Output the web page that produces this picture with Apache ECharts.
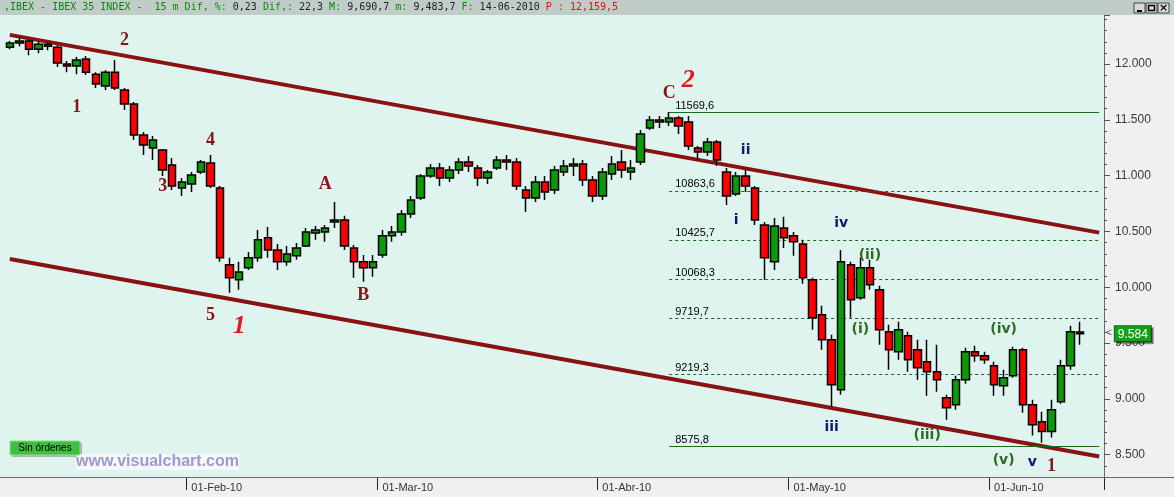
<!DOCTYPE html>
<html>
<head>
<meta charset="utf-8">
<title>IBEX 35 - 15 m</title>
<script src="https://cdn.jsdelivr.net/npm/echarts@6/dist/echarts.min.js"></script>
<style>
  html, body { margin: 0; padding: 0; background: #f0f0f0; }
  #chart { width: 1174px; height: 497px; }
</style>
</head>
<body>
<div id="chart"></div>
<script>
// una vela por sesion, 05-Ene-10 .. 14-Jun-10 (+2 huecos a la derecha)
var dates = [
  '05-Ene','06-Ene','07-Ene','08-Ene','11-Ene','12-Ene','13-Ene','14-Ene','15-Ene','18-Ene',
  '19-Ene','20-Ene','21-Ene','22-Ene','25-Ene','26-Ene','27-Ene','28-Ene','29-Ene',
  '01-Feb','02-Feb','03-Feb','04-Feb','05-Feb','08-Feb','09-Feb','10-Feb','11-Feb','12-Feb','15-Feb',
  '16-Feb','17-Feb','18-Feb','19-Feb','22-Feb','23-Feb','24-Feb','25-Feb','26-Feb',
  '01-Mar','02-Mar','03-Mar','04-Mar','05-Mar','08-Mar','09-Mar','10-Mar','11-Mar','12-Mar','15-Mar',
  '16-Mar','17-Mar','18-Mar','19-Mar','22-Mar','23-Mar','24-Mar','25-Mar','26-Mar','29-Mar','30-Mar','31-Mar',
  '01-Abr','06-Abr','07-Abr','08-Abr','09-Abr','12-Abr','13-Abr','14-Abr','15-Abr','16-Abr',
  '19-Abr','20-Abr','21-Abr','22-Abr','23-Abr','26-Abr','27-Abr','28-Abr','29-Abr','30-Abr',
  '03-May','04-May','05-May','06-May','07-May','10-May','11-May','12-May','13-May','14-May',
  '17-May','18-May','19-May','20-May','21-May','24-May','25-May','26-May','27-May','28-May','31-May',
  '01-Jun','02-Jun','03-Jun','04-Jun','07-Jun','08-Jun','09-Jun','10-Jun','11-Jun','14-Jun',
  '15-Jun','16-Jun'
];

var open = [
  12152,12188,12206,12134,12179,12152,12000,11982,12045,11910,11803,11928,11767,11642,11365,11248,11230,11096,10890,
  10926,11033,11114,10890,10201,10067,10174,10264,10443,10335,10228,10282,10371,10487,10496,10586,10604,10353,10228,10174,
  10290,10461,10496,10657,10801,10998,11069,10980,11051,11123,11069,10980,11069,11141,11123,10872,10801,10944,10872,11033,11087,11105,10962,
  10819,11015,11123,11033,11123,11427,11499,11481,11517,11481,11248,11212,11302,11033,10837,10998,10890,10559,10228,10532,
  10461,10389,10067,9754,9530,9082,10201,9906,10174,9977,9601,9422,9566,9440,9333,9243,9011,8948,9172,9422,9387,
  9297,9118,9208,9440,8948,8796,8707,8975,9297,9600
];
var high = [
  12206,12242,12215,12206,12197,12170,12027,12063,12072,11928,11946,12036,11785,11660,11391,11356,11240,11159,10980,
  11033,11141,11185,10908,10264,10228,10317,10514,10541,10389,10371,10398,10532,10550,10559,10765,10640,10380,10290,10290,
  10514,10550,10693,10819,11015,11105,11114,11087,11159,11177,11096,11051,11177,11185,11159,10908,10998,10998,11087,11141,11159,11141,10998,
  11069,11177,11230,11141,11409,11535,11535,11570,11535,11535,11266,11338,11320,11069,11033,11051,10908,10586,10622,10631,
  10496,10425,10085,9834,9575,10335,10228,10264,10246,10013,9664,9691,9601,9530,9530,9485,9037,9208,9458,9476,9422,
  9333,9261,9467,9458,8993,8885,8993,9351,9655,9691
];
var low = [
  12134,12161,12080,12098,12125,11973,11928,11910,11902,11785,11767,11767,11588,11320,11185,11141,10998,10872,10819,
  10854,11015,10890,10228,9950,9977,10156,10228,10264,10156,10192,10246,10360,10425,10407,10532,10335,10085,10049,10094,
  10264,10407,10461,10622,10783,10980,10908,10944,11015,11033,10908,10926,11051,11051,10872,10675,10765,10783,10836,10998,10998,10908,10765,
  10783,10962,10980,10962,11096,11409,11427,11445,11374,11230,11141,11177,11087,10738,10819,10854,10559,10067,10156,10353,
  10282,10031,9619,9440,8930,9037,9727,9888,9977,9485,9261,9351,9243,9172,9029,9064,8814,8903,9136,9333,9315,
  9029,9029,9190,8876,8671,8608,8653,8957,9261,9484
];
var close = [
  12188,12206,12134,12179,12161,12009,11982,12036,11928,11821,11928,11785,11642,11365,11275,11320,11051,10908,10944,
  11007,11123,10908,10264,10085,10138,10264,10425,10335,10228,10299,10353,10496,10514,10532,10604,10371,10228,10174,10228,
  10461,10496,10657,10783,10998,11069,10980,11051,11123,11087,10980,11033,11141,11123,10908,10801,10944,10854,11051,11087,11105,10962,10819,
  11033,11105,11051,11069,11374,11499,11481,11517,11445,11266,11212,11302,11141,10819,10998,10908,10604,10264,10550,10443,
  10407,10085,9727,9530,9127,10228,9888,10174,10022,9619,9440,9619,9351,9279,9243,9172,8921,9172,9422,9387,9351,
  9127,9190,9440,8948,8769,8707,8903,9297,9601,9584
];

var lastPrice = 9584;

// canal bajista (sesion, valor)
var channelTop = [[0, 12262], [114, 10490]];
var channelBottom = [[0, 10254], [114, 8484]];

// retrocesos desde el maximo de abril
var fiboStart = 69;
var fiboEnd = 114;
var fiboLevels = [11569.6, 10863.6, 10425.7, 10068.3, 9719.7, 9219.3, 8575.8];

// recuento de ondas
var waveText = ['2', '1', '4', '3', '5', '1', 'A', 'B', 'C', '2',
                'ii', 'i', 'iv', 'iii', 'v', '1',
                '(i)', '(ii)', '(iii)', '(iv)', '(v)'];
var waveAt   = [12, 7, 21, 16, 21, 24, 33, 37, 69, 71,
                77, 76, 87, 86, 107, 109,
                89, 90, 96, 104, 104];
var waveVal  = [12215, 11615, 11320, 10908, 9745, 9655, 10926, 9924, 11740, 11857,
                11230, 10604, 10577, 8742, 8429, 8393,
                9619, 10290, 8671, 9619, 8447];
var waveDegree = ['inter', 'inter', 'inter', 'inter', 'inter', 'prim', 'inter', 'inter', 'inter', 'prim',
                  'menor', 'menor', 'menor', 'menor', 'menor', 'inter',
                  'minuto', 'minuto', 'minuto', 'minuto', 'minuto'];

var monthStarts = ['01-Feb', '01-Mar', '01-Abr', '03-May', '01-Jun'];
var monthLabels = ['01-Feb-10', '01-Mar-10', '01-Abr-10', '01-May-10', '01-Jun-10'];

var chart = echarts.init(document.getElementById('chart'), null, { renderer: 'canvas' });

var degreeStyle = {
  inter: { color: '#861515', fontFamily: 'Liberation Serif', fontWeight: 'bold', fontSize: 18 },
  prim: { color: '#e8141b', fontFamily: 'Liberation Serif', fontWeight: 'bold', fontStyle: 'italic', fontSize: 26 },
  menor: { color: '#15156a', fontFamily: 'DejaVu Sans', fontWeight: 'bold', fontSize: 14 },
  minuto: { color: '#2f6a25', fontFamily: 'DejaVu Sans', fontWeight: 'bold', fontSize: 14 }
};

function fmtComma(v) {
  return String(v).replace('.', ',');
}

var candles = open.map(function (o, i) {
  return [o, close[i], low[i], high[i]];
});

var fiboLines = fiboLevels.map(function (lv, i) {
  var solid = i === 0 || i === fiboLevels.length - 1;
  return [
    {
      coord: [fiboStart, lv],
      lineStyle: { color: '#1a6b1a', width: 1, type: solid ? 'solid' : [3, 3] },
      label: {
        show: true, position: 'insideStartTop', formatter: fmtComma(lv),
        color: '#000', fontFamily: 'Liberation Sans', fontSize: 11, distance: [6, 1]
      }
    },
    { coord: [fiboEnd, lv] }
  ];
});

var channelLines = [channelTop, channelBottom].map(function (c) {
  return [
    { coord: c[0], lineStyle: { color: '#8a1212', width: 4, type: 'solid' }, label: { show: false } },
    { coord: c[1] }
  ];
});

var priceTag = {
  yAxis: lastPrice,
  lineStyle: { color: 'rgba(0,0,0,0)', width: 0 },
  label: {
    show: true, position: 'end', distance: 2,
    formatter: '{a|<}{b|' + (lastPrice / 1000).toFixed(3) + '}',
    rich: {
      a: { color: '#555', fontFamily: 'Liberation Sans', fontSize: 10, padding: [0, 3, 0, 0] },
      b: {
        color: '#fff', backgroundColor: '#14a014', borderColor: '#0a6e0a', borderWidth: 1,
        padding: [2, 3, 1, 3], fontFamily: 'Liberation Sans', fontSize: 12,
        shadowColor: 'rgba(0,0,0,0.35)', shadowOffsetX: 2, shadowOffsetY: 2, shadowBlur: 0
      }
    }
  }
};

var option = {
  backgroundColor: '#f0f0f0',
  animation: false,
  grid: {
    left: 5, right: 70, top: 15, bottom: 20,
    show: true, backgroundColor: '#e0f4ef', borderWidth: 0
  },
  xAxis: {
    type: 'category',
    data: dates,
    boundaryGap: true,
    axisLine: { lineStyle: { color: '#6a6a6a', width: 1 } },
    axisTick: {
      show: true,
      length: 13,
      lineStyle: { color: '#222', width: 1 },
      interval: function (i, v) { return monthStarts.indexOf(v) >= 0; }
    },
    axisLabel: {
      interval: function (i, v) { return monthStarts.indexOf(v) >= 0; },
      formatter: function (v) { return monthLabels[monthStarts.indexOf(v)]; },
      align: 'left',
      margin: 5,
      color: '#333',
      fontFamily: 'Liberation Sans',
      fontSize: 11
    },
    splitLine: { show: false }
  },
  yAxis: {
    type: 'value',
    position: 'right',
    min: 8300,
    max: 12440,
    splitNumber: 8,
    axisLine: { show: true, lineStyle: { color: '#6a6a6a' } },
    axisTick: { show: true, length: 6, lineStyle: { color: '#555' } },
    minorTick: { show: true, splitNumber: 5, length: 3, lineStyle: { color: '#555' } },
    axisLabel: {
      showMinLabel: false,
      showMaxLabel: false,
      margin: 11,
      color: '#3a3a3a',
      fontFamily: 'Liberation Sans',
      fontSize: 12,
      formatter: function (v) { return (v / 1000).toFixed(3); }
    },
    splitLine: { show: false }
  },
  series: [
    {
      name: 'IBEX 35',
      type: 'candlestick',
      data: candles,
      barWidth: 8,
      z: 3,
      itemStyle: {
        color: '#0a9a0a',
        color0: '#ff0000',
        borderColor: '#000',
        borderColor0: '#000',
        borderWidth: 1.5
      },
      markLine: {
        silent: true,
        symbol: ['none', 'none'],
        z: 2,
        data: channelLines.concat(fiboLines).concat([priceTag])
      }
    },
    {
      name: 'ondas',
      type: 'scatter',
      symbolSize: 0,
      z: 5,
      silent: true,
      itemStyle: { opacity: 1 },
      data: waveText.map(function (t, i) {
        var s = degreeStyle[waveDegree[i]];
        return {
          value: [waveAt[i], waveVal[i]],
          label: Object.assign({ show: true, position: 'inside', formatter: t }, s)
        };
      })
    }
  ],
  graphic: [
    { type: 'rect', z: 0, shape: { x: 0, y: 15, width: 5, height: 462 }, style: { fill: '#e0f4ef' } },
    { type: 'line', z: 10, shape: { x1: 0, y1: 477.5, x2: 1174, y2: 477.5 }, style: { stroke: '#6a6a6a', lineWidth: 1 } },
    { type: 'rect', z: 10, shape: { x: 0, y: 0, width: 1174, height: 15 }, style: { fill: '#bfccc7' } },
    {
      type: 'text', z: 11, x: 4, y: 2,
      style: {
        text: '{g|,IBEX - IBEX 35 INDEX -  15 m Dif, %:} {k|0,23} {g|Dif,:} {k|22,3} {g|M:} {k|9,690,7} {g|m:} {k|9,483,7} {g|F:} {k|14-06-2010} {r|P : 12,159,5}',
        font: '10px "DejaVu Sans Mono"',
        fill: '#222',
        rich: {
          g: { fill: '#0a8a0a', font: '10px "DejaVu Sans Mono"' },
          k: { fill: '#222', font: '10px "DejaVu Sans Mono"' },
          r: { fill: '#e01010', font: '10px "DejaVu Sans Mono"' }
        }
      }
    },
    { type: 'rect', z: 11, shape: { x: 1134, y: 3, width: 11, height: 10 }, style: { fill: '#d8d8d8', stroke: '#444' } },
    { type: 'rect', z: 11, shape: { x: 1146, y: 3, width: 11, height: 10 }, style: { fill: '#d8d8d8', stroke: '#444' } },
    { type: 'rect', z: 11, shape: { x: 1158, y: 3, width: 11, height: 10 }, style: { fill: '#d8d8d8', stroke: '#444' } },
    { type: 'line', z: 12, shape: { x1: 1137, y1: 11, x2: 1142, y2: 11 }, style: { stroke: '#000', lineWidth: 2 } },
    { type: 'rect', z: 12, shape: { x: 1148.5, y: 5.5, width: 6, height: 5 }, style: { fill: 'none', stroke: '#000', lineWidth: 1.5 } },
    { type: 'text', z: 12, x: 1163.5, y: 8, style: { text: '×', font: 'bold 11px "DejaVu Sans"', fill: '#000', align: 'center', verticalAlign: 'middle' } },
    { type: 'rect', z: 11, shape: { x: 12, y: 443, width: 70, height: 14 }, style: { fill: '#b0b0b0' } },
    { type: 'rect', z: 12, shape: { x: 10, y: 441, width: 70, height: 14 }, style: { fill: '#3fbf3f', stroke: '#8fe08f', lineWidth: 1 } },
    { type: 'text', z: 13, x: 45, y: 448, style: { text: 'Sin órdenes', font: '10px "Liberation Sans"', fill: '#000', align: 'center', verticalAlign: 'middle' } },
    {
      type: 'text', z: 11, x: 76, y: 462,
      style: {
        text: 'www.visualchart.com', font: 'bold 16px "Liberation Sans"', fill: '#9b9bcf',
        verticalAlign: 'middle', backgroundColor: '#f6f6fb'
      }
    }
  ]
};

chart.setOption(option);
</script>
</body>
</html>
